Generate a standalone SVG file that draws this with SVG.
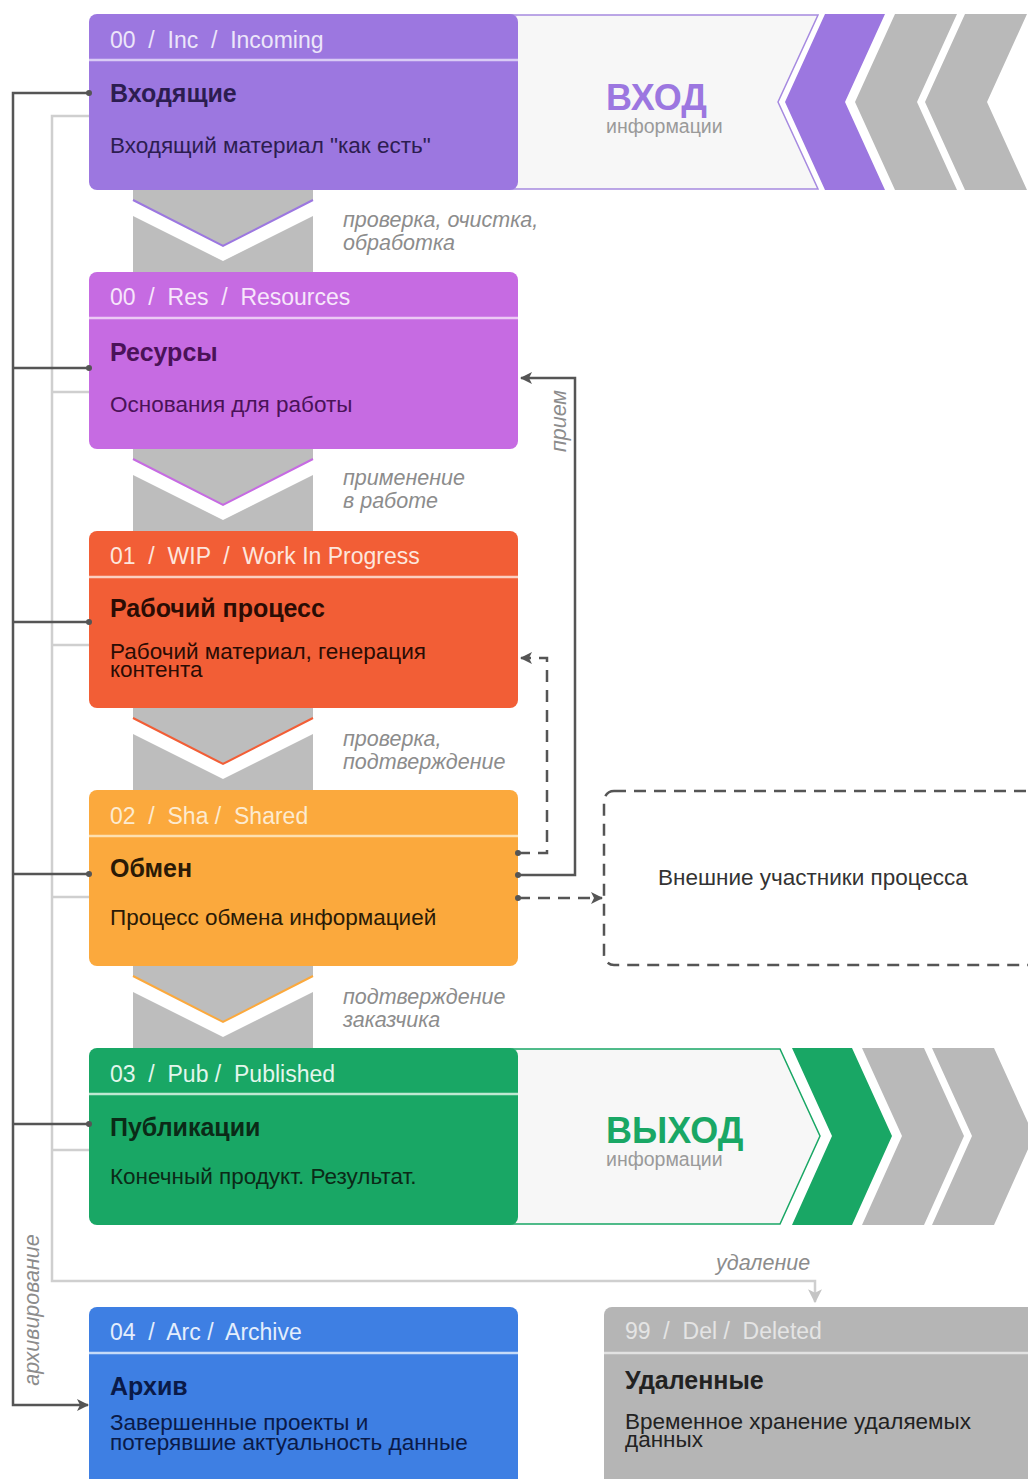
<svg xmlns="http://www.w3.org/2000/svg" width="1028" height="1479" viewBox="0 0 1028 1479">
<defs>
<style>
text{font-family:"Liberation Sans",Arial,sans-serif}
.hdr{font-size:23px;white-space:pre}
.ttl{font-size:25px;font-weight:bold}
.sub{font-size:22.5px}
.lbl{font-size:21.5px;font-style:italic;fill:#8c8c8c}
.sep{stroke-width:2.5}
.dark{fill:none;stroke:#555;stroke-width:2.5}
.light{fill:none;stroke:#cfcfcf;stroke-width:2.5}
.dash{stroke-dasharray:12 8}
.chev{fill:#bdbdbd}
.rchev{fill:#b9b9b9}
</style>
<marker id="ah" viewBox="0 0 12 12" refX="11" refY="6" markerWidth="12" markerHeight="12" markerUnits="userSpaceOnUse" orient="auto">
<path d="M0,0 L12,6 L0,12 L3,6 Z" fill="#555"/>
</marker>
<marker id="ahl" viewBox="0 0 12 12" refX="11" refY="6" markerWidth="14" markerHeight="14" markerUnits="userSpaceOnUse" orient="auto">
<path d="M0,0 L12,6 L0,12 L3,6 Z" fill="#c4c4c4"/>
</marker>
</defs>
<rect x="0" y="0" width="1028" height="1479" fill="#ffffff"/>

<!-- flow chevrons between stages -->
<g id="flow-chevrons">
<polygon class="chev" points="133,190 313,190 313,200 223,246 133,200"/>
<polyline points="133,200 223,246 313,200" fill="none" stroke="#9c77e0" stroke-width="2"/>
<polygon class="chev" points="133,216 223,261 313,216 313,272 133,272"/>

<polygon class="chev" points="133,449 313,449 313,459 223,505 133,459"/>
<polyline points="133,459 223,505 313,459" fill="none" stroke="#c66be2" stroke-width="2"/>
<polygon class="chev" points="133,475 223,520 313,475 313,531 133,531"/>

<polygon class="chev" points="133,708 313,708 313,718 223,764 133,718"/>
<polyline points="133,718 223,764 313,718" fill="none" stroke="#f25e36" stroke-width="2"/>
<polygon class="chev" points="133,734 223,779 313,734 313,790 133,790"/>

<polygon class="chev" points="133,966 313,966 313,976 223,1022 133,976"/>
<polyline points="133,976 223,1022 313,976" fill="none" stroke="#fba93d" stroke-width="2"/>
<polygon class="chev" points="133,992 223,1037 313,992 313,1048 133,1048"/>

<text class="lbl" x="343" y="227">проверка, очистка,<tspan x="343" y="250">обработка</tspan></text>
<text class="lbl" x="343" y="485">применение<tspan x="343" y="508">в работе</tspan></text>
<text class="lbl" x="343" y="746">проверка,<tspan x="343" y="769">подтверждение</tspan></text>
<text class="lbl" x="343" y="1004">подтверждение<tspan x="343" y="1027">заказчика</tspan></text>
</g>

<!-- input banner -->
<g id="input-banner">
<polygon points="505,15 818,15 778,102 818,189 505,189" fill="#f7f7f7" stroke="#a68ae0" stroke-width="1.5"/>
<polygon points="825,14 885,14 845,102 885,190 825,190 785,102" fill="#9c77e0"/>
<polygon class="rchev" points="895,14 957,14 917,102 957,190 895,190 855,102"/>
<polygon class="rchev" points="965,14 1027,14 987,102 1027,190 965,190 925,102"/>
<text x="606" y="110" font-size="36" font-weight="bold" fill="#9c77e0">ВХОД</text>
<text x="606" y="133" font-size="19.5" fill="#9a9a9a">информации</text>
</g>

<!-- output banner -->
<g id="output-banner">
<polygon points="505,1049 780,1049 820,1136 780,1224 505,1224" fill="#f7f7f7" stroke="#19a765" stroke-width="1.5"/>
<polygon points="792,1048 852,1048 892,1136 852,1225 792,1225 832,1136" fill="#19a765"/>
<polygon class="rchev" points="862,1048 924,1048 964,1136 924,1225 862,1225 902,1136"/>
<polygon class="rchev" points="932,1048 994,1048 1034,1136 994,1225 932,1225 972,1136"/>
<text x="606" y="1143" font-size="36" font-weight="bold" fill="#19a765">ВЫХОД</text>
<text x="606" y="1166" font-size="19.5" fill="#9a9a9a">информации</text>
</g>

<!-- nodes -->
<g id="node-incoming">
<rect x="89" y="14" width="429" height="176" rx="8" fill="#9c77e0"/>
<line class="sep" x1="89" y1="60" x2="518" y2="60" stroke="#d9cbf5"/>
<text class="hdr" x="110" y="48" fill="#ece6fa">00  /  Inc  /  Incoming</text>
<text class="ttl" x="110" y="102" fill="#2c1d50">Входящие</text>
<text class="sub" x="110" y="153" fill="#2c1d50">Входящий материал "как есть"</text>
</g>

<g id="node-resources">
<rect x="89" y="272" width="429" height="177" rx="8" fill="#c66be2"/>
<line class="sep" x1="89" y1="318" x2="518" y2="318" stroke="#ecc9f5"/>
<text class="hdr" x="110" y="305" fill="#f7e6fb">00  /  Res  /  Resources</text>
<text class="ttl" x="110" y="361" fill="#4a1258">Ресурсы</text>
<text class="sub" x="110" y="412" fill="#4a1258">Основания для работы</text>
</g>

<g id="node-wip">
<rect x="89" y="531" width="429" height="177" rx="8" fill="#f25e36"/>
<line class="sep" x1="89" y1="577" x2="518" y2="577" stroke="#fbd0c2"/>
<text class="hdr" x="110" y="564" fill="#fde6dd">01  /  WIP  /  Work In Progress</text>
<text class="ttl" x="110" y="617" fill="#2a0c04">Рабочий процесс</text>
<text class="sub" x="110" y="659" fill="#2a0c04">Рабочий материал, генерация<tspan x="110" y="677">контента</tspan></text>
</g>

<g id="node-shared">
<rect x="89" y="790" width="429" height="176" rx="8" fill="#fba93d"/>
<line class="sep" x1="89" y1="836" x2="518" y2="836" stroke="#fde0b0"/>
<text class="hdr" x="110" y="824" fill="#fdebd0">02  /  Sha /  Shared</text>
<text class="ttl" x="110" y="877" fill="#2a1a06">Обмен</text>
<text class="sub" x="110" y="925" fill="#2a1a06">Процесс обмена информацией</text>
</g>

<g id="node-published">
<rect x="89" y="1048" width="429" height="177" rx="8" fill="#19a765"/>
<line class="sep" x1="89" y1="1094" x2="518" y2="1094" stroke="#bfe8d2"/>
<text class="hdr" x="110" y="1082" fill="#e3f6ec">03  /  Pub /  Published</text>
<text class="ttl" x="110" y="1136" fill="#0b2a17">Публикации</text>
<text class="sub" x="110" y="1184" fill="#0b2a17">Конечный продукт. Результат.</text>
</g>

<g id="node-archive">
<rect x="89" y="1307" width="429" height="185" rx="8" fill="#3e7fe3"/>
<line class="sep" x1="89" y1="1353" x2="518" y2="1353" stroke="#c6dbf8"/>
<text class="hdr" x="110" y="1340" fill="#e4eefc">04  /  Arc /  Archive</text>
<text class="ttl" x="110" y="1395" fill="#0a1a48">Архив</text>
<text class="sub" x="110" y="1430" fill="#0a1a48">Завершенные проекты и<tspan x="110" y="1450">потерявшие актуальность данные</tspan></text>
</g>

<g id="node-deleted">
<rect x="604" y="1307" width="440" height="185" rx="8" fill="#b5b5b5"/>
<line class="sep" x1="604" y1="1353" x2="1028" y2="1353" stroke="#e2e2e2"/>
<text class="hdr" x="625" y="1339" fill="#e4e4e4">99  /  Del /  Deleted</text>
<text class="ttl" x="625" y="1389" fill="#222222">Удаленные</text>
<text class="sub" x="625" y="1429" fill="#222222">Временное хранение удаляемых<tspan x="625" y="1447">данных</tspan></text>
</g>

<g id="node-external">
<rect x="604" y="791" width="440" height="174" rx="10" fill="#ffffff" stroke="#555" stroke-width="2.5" stroke-dasharray="12 8"/>
<text x="658" y="885" font-size="22.5" fill="#333333">Внешние участники процесса</text>
</g>

<!-- connectors -->
<g id="connectors">
<path class="light" d="M89,116 H52 V1281 H815 V1302" marker-end="url(#ahl)"/>
<path class="light" d="M52,392 H89 M52,645 H89 M52,897 H89 M52,1150 H89"/>
<path class="dark" d="M89,93 H13 V1405 H88" marker-end="url(#ah)"/>
<path class="dark" d="M13,368 H89 M13,622 H89 M13,874 H89 M13,1124 H89"/>
<g fill="#555">
<circle cx="89" cy="93" r="3"/>
<circle cx="89" cy="368" r="3"/>
<circle cx="89" cy="622" r="3"/>
<circle cx="89" cy="874" r="3"/>
<circle cx="89" cy="1124" r="3"/>
<circle cx="518" cy="853" r="3"/>
<circle cx="518" cy="875" r="3"/>
<circle cx="518" cy="898" r="3"/>
</g>
<path class="dark" d="M518,875 H575 V378 H521" marker-end="url(#ah)"/>
<path class="dark dash" d="M518,853 H547 V658 H521" marker-end="url(#ah)"/>
<path class="dark dash" d="M518,898 H602" marker-end="url(#ah)"/>
<text class="lbl" x="0" y="0" font-size="19" transform="translate(566,421) rotate(-90)" text-anchor="middle">прием</text>
<text class="lbl" x="0" y="0" font-size="22" transform="translate(39,1310) rotate(-90)" text-anchor="middle">архивирование</text>
<text class="lbl" x="716" y="1270">удаление</text>
</g>
</svg>
